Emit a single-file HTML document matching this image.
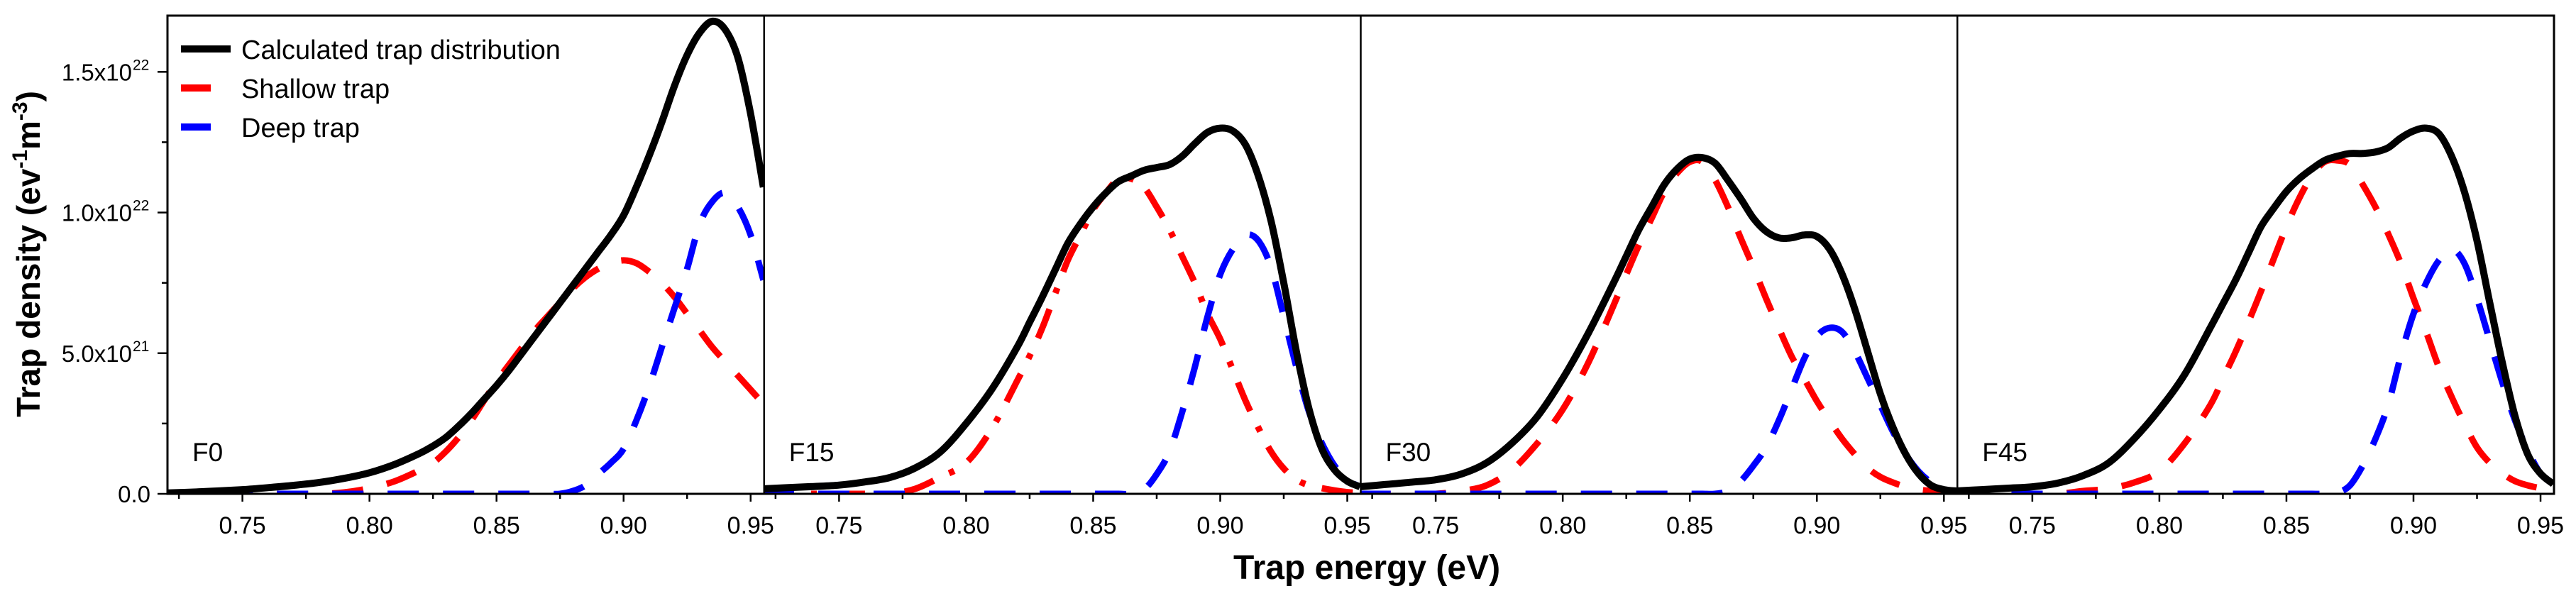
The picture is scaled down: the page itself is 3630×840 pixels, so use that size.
<!DOCTYPE html>
<html><head><meta charset="utf-8"><style>
html,body{margin:0;padding:0;background:#fff;}
svg{display:block;font-family:"Liberation Sans",Arial,sans-serif;}
</style></head><body>
<svg id="chart" width="3630" height="840" viewBox="0 0 3630 840" xmlns="http://www.w3.org/2000/svg"></svg>
<script>
const energies=[0.72,0.73,0.74,0.75,0.76,0.77,0.78,0.79,0.80,0.81,0.82,0.825,0.83,0.835,0.84,0.845,0.85,0.855,0.86,0.865,0.87,0.875,0.88,0.885,0.89,0.895,0.90,0.905,0.91,0.915,0.92,0.925,0.93,0.935,0.94,0.945,0.95,0.955];
const panelNames=["F0","F15","F30","F45"];
// values in units of 1e21 ev^-1 m^-3
const f0Calc=[0.03,0.06,0.1,0.15,0.22,0.3,0.4,0.55,0.75,1.05,1.45,1.7,2.0,2.4,2.85,3.35,3.85,4.4,5.0,5.6,6.2,6.8,7.4,8.0,8.6,9.2,9.9,10.9,12.0,13.2,14.5,15.6,16.4,16.8,16.5,15.5,13.5,10.9];
const f0Shallow=[0,0,0,0,0,0,0,0.05,0.2,0.45,0.85,1.1,1.5,2.0,2.6,3.3,4.0,4.6,5.2,5.8,6.3,6.8,7.3,7.7,8.0,8.2,8.3,8.2,7.9,7.5,7.0,6.4,5.8,5.2,4.7,4.2,3.7,3.2];
const f0Deep=[0,0,0,0,0,0,0,0,0,0,0,0,0,0,0,0,0,0,0,0,0,0,0.1,0.3,0.7,1.1,1.6,2.6,3.8,5.2,6.6,8.0,9.6,10.4,10.7,10.2,9.2,7.6];
const f15Calc=[0.18,0.22,0.26,0.31,0.42,0.58,0.92,1.5,2.5,3.7,5.2,6.1,7.0,7.95,8.9,9.6,10.2,10.7,11.1,11.3,11.5,11.6,11.7,12.0,12.45,12.85,13.0,12.9,12.4,11.3,9.7,7.5,5.05,3.0,1.6,0.85,0.45,0.25];
const f15Shallow=[0,0,0,0,0,0,0.18,0.6,1.1,2.3,4.0,4.9,5.9,7.1,8.3,9.2,10.1,10.7,11.2,11.2,10.9,10.2,9.4,8.45,7.5,6.4,5.5,4.4,3.3,2.35,1.5,0.9,0.5,0.3,0.2,0.12,0.06,0.03];
const f15Deep=[0,0,0,0,0,0,0,0,0,0,0,0,0,0,0,0,0,0,0,0,0.15,0.7,1.5,2.9,4.5,6.3,7.8,8.7,9.2,9.0,8.05,6.3,4.5,2.9,1.8,1.0,0.5,0.25];
const f30Calc=[0.25,0.33,0.41,0.5,0.7,1.1,1.8,2.75,4.1,5.7,7.5,8.45,9.4,10.2,11.0,11.55,11.9,11.95,11.75,11.15,10.5,9.8,9.33,9.1,9.1,9.2,9.15,8.7,7.8,6.55,5.05,3.55,2.35,1.4,0.72,0.3,0.15,0.1];
const f30Shallow=[0,0,0,0,0.1,0.3,0.85,1.8,3.0,4.65,6.7,7.8,8.85,9.8,10.75,11.4,11.8,11.8,11.15,10.2,9.1,8.05,6.95,5.9,4.9,4.1,3.3,2.6,1.95,1.4,0.92,0.6,0.4,0.25,0.15,0.1,0.05,0.02];
const f30Deep=[0,0,0,0,0,0,0,0,0,0,0,0,0,0,0,0,0,0,0,0.1,0.45,1.0,1.65,2.6,3.7,4.8,5.6,5.9,5.75,5.05,4.1,3.15,2.2,1.4,0.8,0.4,0.15,0.05];
const f45Calc=[0.1,0.15,0.2,0.25,0.38,0.65,1.1,1.95,3.0,4.25,5.9,6.75,7.6,8.55,9.5,10.15,10.75,11.2,11.55,11.85,12.0,12.1,12.1,12.15,12.3,12.65,12.9,13.0,12.8,12.0,10.75,9.0,6.8,4.65,2.75,1.4,0.72,0.35];
const f45Shallow=[0,0,0,0,0,0.1,0.18,0.4,0.8,1.8,3.15,4.1,5.05,6.1,7.2,8.35,9.5,10.5,11.3,11.8,11.85,11.7,11.0,10.2,9.25,8.2,6.95,5.75,4.5,3.45,2.5,1.65,1.1,0.72,0.45,0.3,0.2,0.12];
const f45Deep=[0,0,0,0,0,0,0,0,0,0,0.0,0,0,0,0,0,0,0,0,0,0.04,0.3,1.0,1.95,3.15,4.9,6.4,7.5,8.3,8.7,8.2,6.95,5.45,3.95,2.6,1.55,0.72,0.35];
const xTicks=[0.75,0.80,0.85,0.90,0.95];
const xTickLabels=["0.75","0.80","0.85","0.90","0.95"];
const yTicks=[0,5,10,15];
const yTickMant=["0.0","5.0x10","1.0x10","1.5x10"];
const yTickExp=["","21","22","22"];

const calcSeries=[f0Calc,f15Calc,f30Calc,f45Calc];
const shallowSeries=[f0Shallow,f15Shallow,f30Shallow,f45Shallow];
const deepSeries=[f0Deep,f15Deep,f30Deep,f45Deep];

const svg=document.getElementById('chart');
const NS='http://www.w3.org/2000/svg';
const L=236,R=3599,T=22,B=696;
const PW=(R-L)/4, XMIN=0.7205, XMAX=0.9553, YMAX=17.0;
function xs(p,v){return L+p*PW+(v-XMIN)/(XMAX-XMIN)*PW;}
function ys(v){return B-v/YMAX*(B-T);}
function mk(tag,attrs,parent){const e=document.createElementNS(NS,tag);for(const k in attrs)e.setAttribute(k,attrs[k]);(parent||svg).appendChild(e);return e;}
function smooth(pts){let d='M'+pts[0][0].toFixed(1)+','+pts[0][1].toFixed(1);
 for(let i=0;i<pts.length-1;i++){const p0=pts[Math.max(0,i-1)],p1=pts[i],p2=pts[i+1],p3=pts[Math.min(pts.length-1,i+2)];
  const c1x=p1[0]+(p2[0]-p0[0])/6,c1y=p1[1]+(p2[1]-p0[1])/6,c2x=p2[0]-(p3[0]-p1[0])/6,c2y=p2[1]-(p3[1]-p1[1])/6;
  d+=' C'+c1x.toFixed(1)+','+c1y.toFixed(1)+' '+c2x.toFixed(1)+','+c2y.toFixed(1)+' '+p2[0].toFixed(1)+','+p2[1].toFixed(1);}
 return d;}
const defs=mk('defs',{});
for(let p=0;p<4;p++){
 const cp=mk('clipPath',{id:'clip'+p},defs);
 mk('rect',{x:L+p*PW,y:T-10,width:PW,height:B-T+10},cp);
}
for(let p=0;p<4;p++){
 const g=mk('g',{'clip-path':'url(#clip'+p+')'});
 
 
 const mkPts=arr=>energies.map((e,i)=>[xs(p,e),ys(arr[i])]);
 const sh=mk('path',{d:smooth(mkPts(shallowSeries[p])),fill:'none',stroke:'#ff0000','stroke-width':9,'stroke-dasharray':p===1?'44 24 8 24':'44 34'},g);
 
 
 const dp=mk('path',{d:smooth(mkPts(deepSeries[p])),fill:'none',stroke:'#0000ff','stroke-width':9,'stroke-dasharray':'44 34'},g);
 
 
 const cl=mk('path',{d:smooth(mkPts(calcSeries[p])),fill:'none',stroke:'#000','stroke-width':10},g);
 
 
 const lb=mk('text',{x:xs(p,0.7205)+35,y:650,'font-size':37},svg);
 lb.textContent=panelNames[p];
 
 
 for(let i=0;i<xTicks.length;i++){
  const x=xs(p,xTicks[i]);
  const t=mk('line',{x1:x,x2:x,y1:B,y2:B+11,stroke:'#000','stroke-width':2.5});
  
  
  const m=xs(p,xTicks[i]-0.025);
  mk('line',{x1:m,x2:m,y1:B,y2:B+7,stroke:'#000','stroke-width':2.5});
  const tl=mk('text',{x:x,y:752,'font-size':34,'text-anchor':'middle'});
  tl.textContent=xTickLabels[i];
  
  
 }
 if(p>0){const dv=mk('line',{x1:L+p*PW,x2:L+p*PW,y1:T,y2:B,stroke:'#000','stroke-width':2.5});
  
  }
}
const frame=mk('rect',{x:L,y:T,width:R-L,height:B-T,fill:'none',stroke:'#000','stroke-width':3});


for(let i=0;i<yTicks.length;i++){
 const y=ys(yTicks[i]);
 const t=mk('line',{x1:L-14,x2:L,y1:y,y2:y,stroke:'#000','stroke-width':2.5});
 
 
 if(i<yTicks.length-1){const ym=ys(yTicks[i]+2.5);mk('line',{x1:L-8,x2:L,y1:ym,y2:ym,stroke:'#000','stroke-width':2.5});}
 const tl=mk('text',{x:yTickExp[i]?186:212,y:y+12,'font-size':33,'text-anchor':'end'});
 tl.textContent=yTickMant[i];
 
 
 if(yTickExp[i]){const ex=mk('text',{x:187,y:y-3,'font-size':21});ex.textContent=yTickExp[i];}
}
</script>
<svg style="position:absolute;left:0;top:0" width="3630" height="840">
 <g font-family="Liberation Sans, Arial, sans-serif">
 <text x="1926" y="816" font-size="48" font-weight="bold" text-anchor="middle">Trap energy (eV)</text>
 <text transform="translate(56,358) rotate(-90)" font-size="46" font-weight="bold" text-anchor="middle">Trap density (ev<tspan font-size="30" dy="-18">-1</tspan><tspan dy="18">m</tspan><tspan font-size="30" dy="-18">-3</tspan><tspan dy="18">)</tspan></text>
 <g>
  <line x1="255" x2="325" y1="69" y2="69" stroke="#000" stroke-width="10"/>
  <text x="340" y="83" font-size="38">Calculated trap distribution</text>
  <line x1="255" x2="297" y1="124" y2="124" stroke="#ff0000" stroke-width="10"/>
  <text x="340" y="138" font-size="38">Shallow trap</text>
  <line x1="255" x2="297" y1="179" y2="179" stroke="#0000ff" stroke-width="10"/>
  <text x="340" y="193" font-size="38">Deep trap</text>
 </g>
 </g>
</svg>
</body></html>
